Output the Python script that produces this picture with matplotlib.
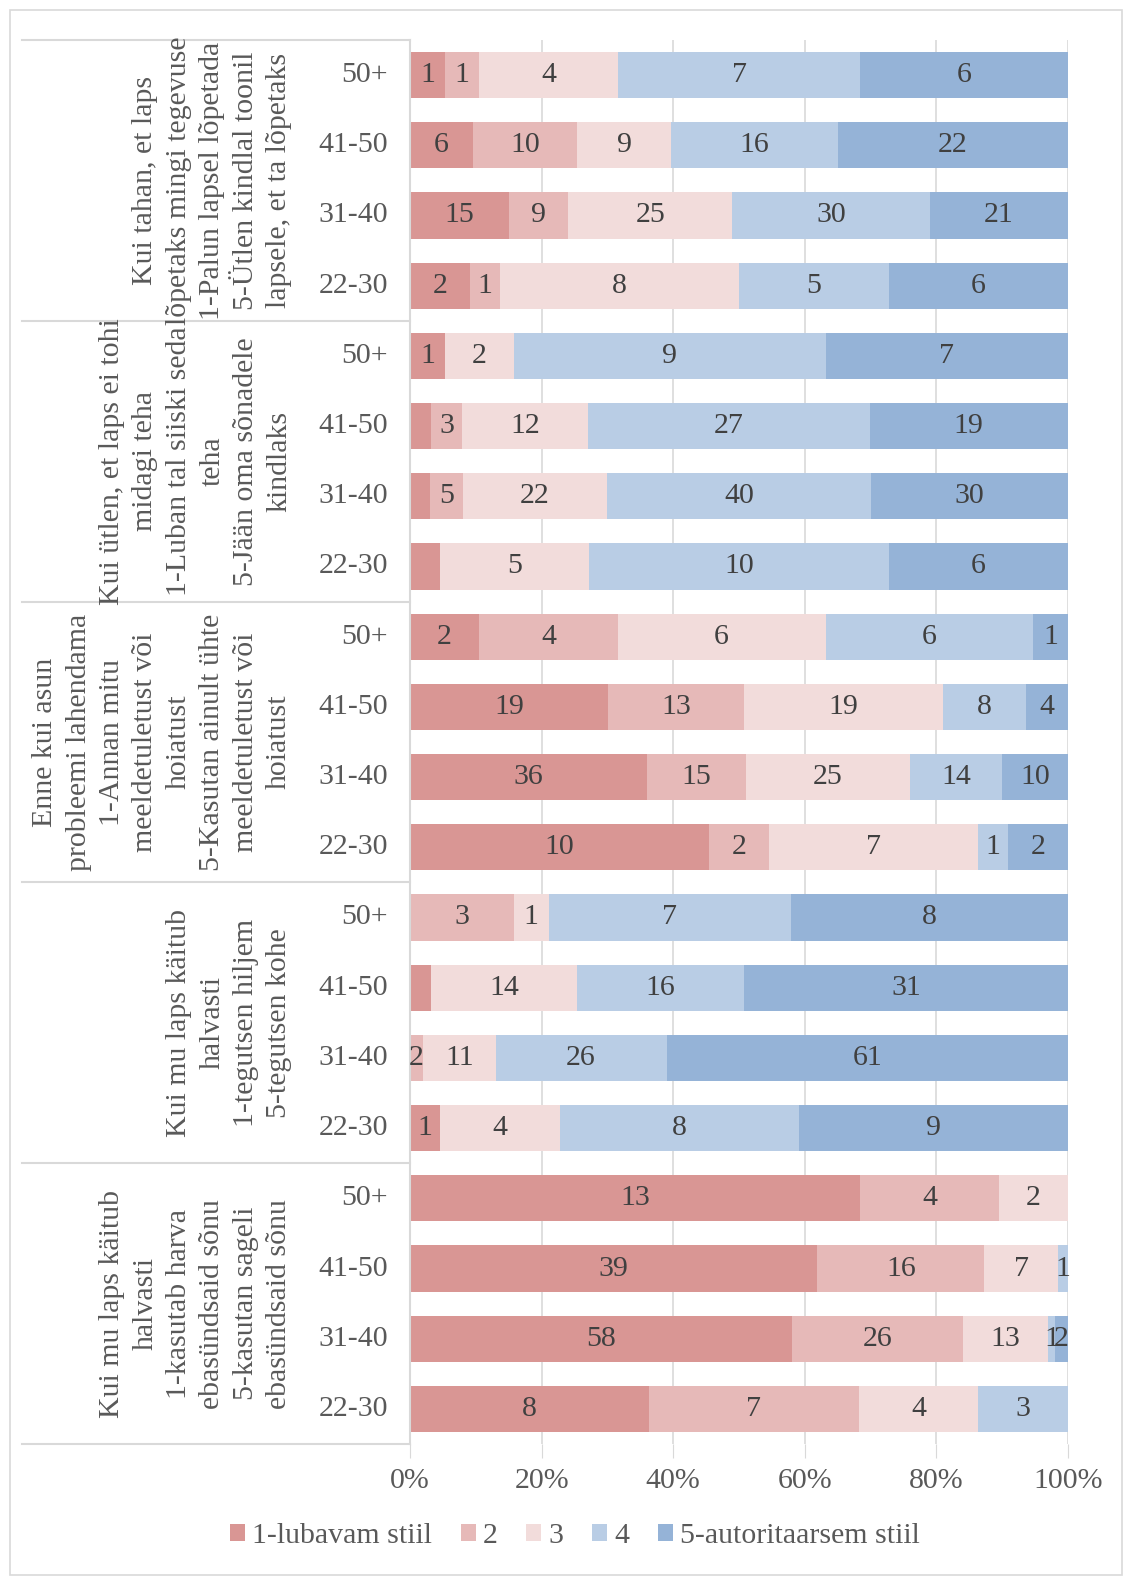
import matplotlib.pyplot as plt
from matplotlib.lines import Line2D
from matplotlib.patches import Rectangle, Patch
import numpy as np

plt.rcParams['font.family'] = ['Liberation Serif', 'DejaVu Serif']

# data
groups = [
    "Kui tahan, et laps\nlõpetaks mingi tegevuse\n1-Palun lapsel lõpetada\n5-Ütlen kindlal toonil\nlapsele, et ta lõpetaks",
    "Kui ütlen, et laps ei tohi\nmidagi teha\n1-Luban tal siiski seda\nteha\n5-Jään oma sõnadele\nkindlaks",
    "Enne kui asun\nprobleemi lahendama\n1-Annan mitu\nmeeldetuletust või\nhoiatust\n5-Kasutan ainult ühte\nmeeldetuletust või\nhoiatust",
    "Kui mu laps käitub\nhalvasti\n1-tegutsen hiljem\n5-tegutsen kohe",
    "Kui mu laps käitub\nhalvasti\n1-kasutab harva\nebasündsaid sõnu\n5-kasutan sageli\nebasündsaid sõnu",
]
ages = ["50+", "41-50", "31-40", "22-30"]
series = ["1-lubavam stiil", "2", "3", "4", "5-autoritaarsem stiil"]
colors = ["#d99694", "#e6b9b8", "#f2dcdb", "#b9cde5", "#95b3d7"]

g1 = [[1, 1, 4, 7, 6], [6, 10, 9, 16, 22], [15, 9, 25, 30, 21], [2, 1, 8, 5, 6]]
g2 = [[1, 0, 2, 9, 7], [2, 3, 12, 27, 19], [3, 5, 22, 40, 30], [1, 0, 5, 10, 6]]
g3 = [[2, 4, 6, 6, 1], [19, 13, 19, 8, 4], [36, 15, 25, 14, 10], [10, 2, 7, 1, 2]]
g4 = [[0, 3, 1, 7, 8], [2, 0, 14, 16, 31], [0, 2, 11, 26, 61], [1, 0, 4, 8, 9]]
g5 = [[13, 4, 2, 0, 0], [39, 16, 7, 1, 0], [58, 26, 13, 1, 2], [8, 7, 4, 3, 0]]
values = [g1, g2, g3, g4, g5]
# labels that are not shown in the original chart (group, row, series)
hidden_labels = [(1, 1, 0), (1, 2, 0), (1, 3, 0), (3, 1, 0)]

W, H = 1134, 1585
fs = 21.5
fig = plt.figure(figsize=(W / 100, H / 100), dpi=100)
ax_l, ax_r, ax_t, ax_b = 410, 1068, 40, 1444
ax = fig.add_axes([ax_l / W, 1 - ax_b / H, (ax_r - ax_l) / W, (ax_b - ax_t) / H])

n = len(groups) * len(ages)
txt_col = "#404040"
grid_col = "#d9d9d9"
for gi, g in enumerate(values):
    for ri, row in enumerate(g):
        y = n - 1 - (gi * len(ages) + ri)
        row = np.array(row, dtype=float)
        frac = row / row.sum()
        left = 0.0
        for si, f in enumerate(frac):
            ax.barh(y, f, left=left, height=0.66, color=colors[si], zorder=2)
            if row[si] > 0 and (gi, ri, si) not in hidden_labels:
                ax.text(left + f / 2, y, str(int(row[si])), ha='center', va='center',
                        fontsize=fs, color=txt_col, zorder=3)
            left += f

ax.set_xlim(0, 1)
ax.set_ylim(-0.5, n - 0.5)
ax.set_xticks(np.arange(0, 1.01, 0.2))
ax.set_xticklabels([f"{int(round(t * 100))}%" for t in np.arange(0, 1.01, 0.2)])
ax.tick_params(axis='x', length=10, color=grid_col, labelsize=fs, labelcolor="#595959", pad=7)
ax.set_yticks([])
ax.grid(axis='x', color=grid_col, linewidth=1.2, zorder=0)
for s in ['top', 'right', 'bottom']:
    ax.spines[s].set_visible(False)
ax.spines['left'].set_color(grid_col)
ax.spines['left'].set_linewidth(1.5)

# age labels and group labels
for gi, gname in enumerate(groups):
    for ri, a in enumerate(ages):
        yc = ax_t + (gi * len(ages) + ri + 0.5) * (ax_b - ax_t) / n
        fig.text(388 / W, 1 - yc / H, a, ha='right', va='center', fontsize=fs, color="#595959")
    yg = ax_t + (gi + 0.5) * (ax_b - ax_t) / len(groups)
    fig.text(292 / W, 1 - yg / H, gname, rotation=90, ha='right', va='center',
             multialignment='center', fontsize=fs, color="#595959", linespacing=1.37)

for k in range(len(groups) + 1):
    yy = 1 - (ax_t + k * (ax_b - ax_t) / len(groups)) / H
    fig.add_artist(Line2D([22 / W, ax_l / W], [yy, yy], color=grid_col, linewidth=1.5))

# outer border
fig.add_artist(Rectangle((10 / W, 10 / H), 1112 / W, 1565 / H, transform=fig.transFigure,
                         fill=False, edgecolor=grid_col, linewidth=1.2))

handles = [Patch(facecolor=c, edgecolor='none') for c in colors]
fig.legend(handles, series, loc='center', bbox_to_anchor=(575 / W, 1 - 1536 / H), ncol=5,
           frameon=False, fontsize=fs, handlelength=0.5, handleheight=0.5,
           handletextpad=0.25, columnspacing=0.95, labelcolor="#595959")

fig.savefig("out.png", dpi=100)
